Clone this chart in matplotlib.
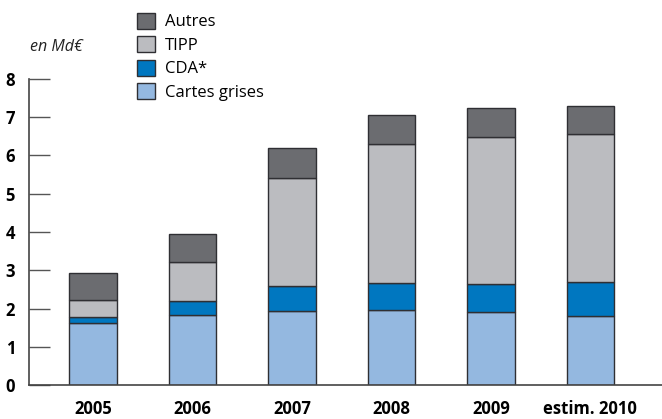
import matplotlib.pyplot as plt
import numpy as np

plt.rcParams['font.family'] = ['Open Sans', 'DejaVu Sans']

annees = ['2005', '2006', '2007', '2008', '2009', 'estim. 2010']
cartes_grises = [1.62, 1.82, 1.94, 1.96, 1.91, 1.81]
cda = [0.17, 0.38, 0.66, 0.71, 0.73, 0.89]
tipp = [0.44, 1.01, 2.82, 3.62, 3.84, 3.85]
autres = [0.69, 0.75, 0.78, 0.78, 0.77, 0.75]

series = [
    ('Cartes grises', cartes_grises, '#94b8e0'),
    ('CDA*', cda, '#0077c0'),
    ('TIPP', tipp, '#bbbcc0'),
    ('Autres', autres, '#6b6c70'),
]

fig = plt.figure(figsize=(6.62, 4.19), dpi=100)
ax = fig.add_axes([29 / 662, 34 / 419, 633 / 662, 306 / 419])

x = np.arange(len(annees))
bottom = np.zeros(len(annees))
handles = []
for nom, vals, couleur in series:
    b = ax.bar(x, vals, bottom=bottom, width=0.48, color=couleur,
               edgecolor='#2f2f33', linewidth=1.0, label=nom)
    handles.append(b)
    bottom += np.array(vals)

ax.set_xlim(-0.644, 5.72)
ax.set_ylim(0, 8)
ax.set_yticks(range(0, 9))
ax.set_yticklabels([str(i) for i in range(0, 9)], fontsize=12, fontweight='bold')
ax.tick_params(axis='y', direction='in', length=15, width=1, color='#555555', pad=10)
ax.set_xticks(x)
ax.set_xticklabels(annees, fontsize=12, fontweight='bold')
ax.tick_params(axis='x', length=0, pad=11)

for s in ['top', 'right']:
    ax.spines[s].set_visible(False)
ax.spines['left'].set_color('#444444')
ax.spines['bottom'].set_color('#444444')
ax.spines['left'].set_linewidth(1.2)
ax.spines['bottom'].set_linewidth(1.2)

fig.text(30 / 662, 1 - 47 / 419, 'en Md€', fontsize=11.5, fontstyle='italic',
         va='center', ha='left', color='#222222')

leg = fig.legend(handles[::-1], [s[0] for s in series][::-1],
                 loc='upper left', bbox_to_anchor=(130 / 662, 1 - 6 / 419),
                 frameon=False, fontsize=12, handlelength=1.1, handleheight=1.1,
                 handletextpad=0.6, labelspacing=0.35, borderaxespad=0)

fig.savefig('out.png', dpi=100)
